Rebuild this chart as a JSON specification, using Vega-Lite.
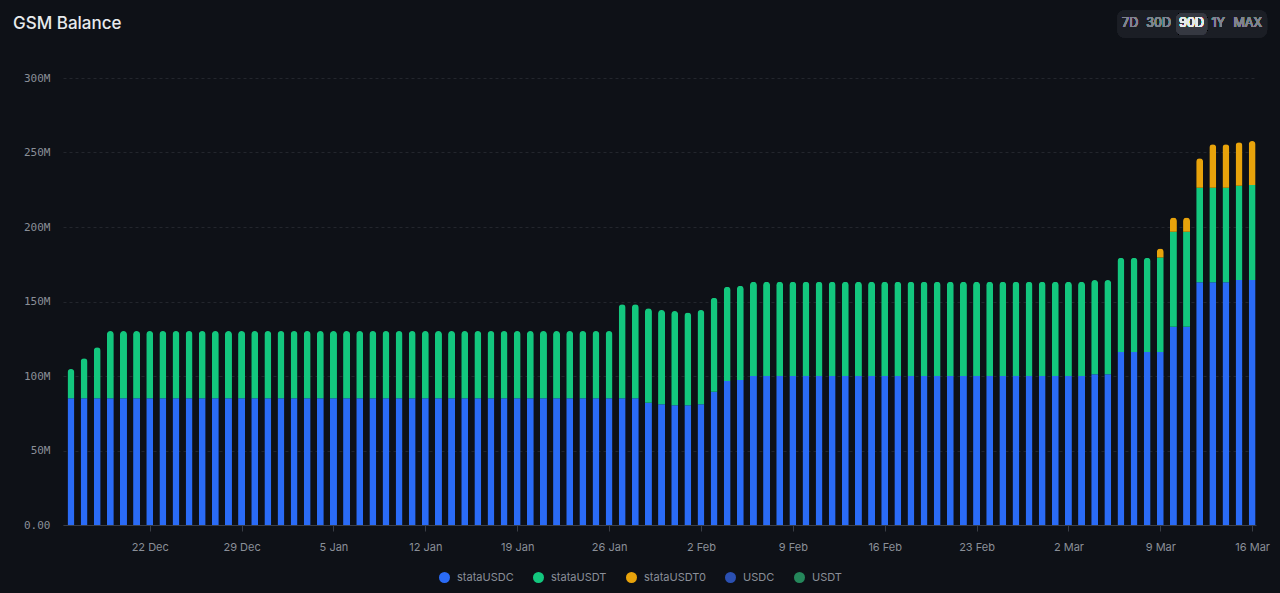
{
  "$schema": "https://vega.github.io/schema/vega-lite/v6.json",
  "autosize": "none",
  "width": 1193,
  "height": 447,
  "padding": {"left": 63, "top": 78, "right": 24, "bottom": 68},
  "background": "#0e1117",
  "title": {"text": "GSM Balance", "anchor": "start", "frame": "group", "dx": -50, "offset": -23, "fontSize": 17, "fontWeight": 500, "color": "#e8eaed", "font": "Inter"},
  "data": {
    "format": {"parse": {"date": "date:'%Y-%m-%d'"}},
    "values": [
      {"date": "2024-12-16", "stataUSDC": 85.0, "stataUSDT": 19.7},
      {"date": "2024-12-17", "stataUSDC": 85.0, "stataUSDT": 26.9},
      {"date": "2024-12-18", "stataUSDC": 85.0, "stataUSDT": 34.3},
      {"date": "2024-12-19", "stataUSDC": 85.0, "stataUSDT": 45.2},
      {"date": "2024-12-20", "stataUSDC": 85.0, "stataUSDT": 45.2},
      {"date": "2024-12-21", "stataUSDC": 85.0, "stataUSDT": 45.2},
      {"date": "2024-12-22", "stataUSDC": 85.0, "stataUSDT": 45.2},
      {"date": "2024-12-23", "stataUSDC": 85.0, "stataUSDT": 45.2},
      {"date": "2024-12-24", "stataUSDC": 85.0, "stataUSDT": 45.2},
      {"date": "2024-12-25", "stataUSDC": 85.0, "stataUSDT": 45.2},
      {"date": "2024-12-26", "stataUSDC": 85.0, "stataUSDT": 45.2},
      {"date": "2024-12-27", "stataUSDC": 85.0, "stataUSDT": 45.2},
      {"date": "2024-12-28", "stataUSDC": 85.0, "stataUSDT": 45.2},
      {"date": "2024-12-29", "stataUSDC": 85.0, "stataUSDT": 45.2},
      {"date": "2024-12-30", "stataUSDC": 85.0, "stataUSDT": 45.2},
      {"date": "2024-12-31", "stataUSDC": 85.0, "stataUSDT": 45.2},
      {"date": "2025-01-01", "stataUSDC": 85.0, "stataUSDT": 45.2},
      {"date": "2025-01-02", "stataUSDC": 85.0, "stataUSDT": 45.2},
      {"date": "2025-01-03", "stataUSDC": 85.0, "stataUSDT": 45.2},
      {"date": "2025-01-04", "stataUSDC": 85.0, "stataUSDT": 45.2},
      {"date": "2025-01-05", "stataUSDC": 85.0, "stataUSDT": 45.2},
      {"date": "2025-01-06", "stataUSDC": 85.0, "stataUSDT": 45.2},
      {"date": "2025-01-07", "stataUSDC": 85.0, "stataUSDT": 45.2},
      {"date": "2025-01-08", "stataUSDC": 85.0, "stataUSDT": 45.2},
      {"date": "2025-01-09", "stataUSDC": 85.0, "stataUSDT": 45.2},
      {"date": "2025-01-10", "stataUSDC": 85.0, "stataUSDT": 45.2},
      {"date": "2025-01-11", "stataUSDC": 85.0, "stataUSDT": 45.2},
      {"date": "2025-01-12", "stataUSDC": 85.0, "stataUSDT": 45.2},
      {"date": "2025-01-13", "stataUSDC": 85.0, "stataUSDT": 45.2},
      {"date": "2025-01-14", "stataUSDC": 85.0, "stataUSDT": 45.2},
      {"date": "2025-01-15", "stataUSDC": 85.0, "stataUSDT": 45.2},
      {"date": "2025-01-16", "stataUSDC": 85.0, "stataUSDT": 45.2},
      {"date": "2025-01-17", "stataUSDC": 85.0, "stataUSDT": 45.2},
      {"date": "2025-01-18", "stataUSDC": 85.0, "stataUSDT": 45.2},
      {"date": "2025-01-19", "stataUSDC": 85.0, "stataUSDT": 45.2},
      {"date": "2025-01-20", "stataUSDC": 85.0, "stataUSDT": 45.2},
      {"date": "2025-01-21", "stataUSDC": 85.0, "stataUSDT": 45.2},
      {"date": "2025-01-22", "stataUSDC": 85.0, "stataUSDT": 45.2},
      {"date": "2025-01-23", "stataUSDC": 85.0, "stataUSDT": 45.2},
      {"date": "2025-01-24", "stataUSDC": 85.0, "stataUSDT": 45.2},
      {"date": "2025-01-25", "stataUSDC": 85.0, "stataUSDT": 45.2},
      {"date": "2025-01-26", "stataUSDC": 85.0, "stataUSDT": 45.2},
      {"date": "2025-01-27", "stataUSDC": 85.0, "stataUSDT": 63.1},
      {"date": "2025-01-28", "stataUSDC": 85.0, "stataUSDT": 63.1},
      {"date": "2025-01-29", "stataUSDC": 82.1, "stataUSDT": 63.3},
      {"date": "2025-01-30", "stataUSDC": 81.0, "stataUSDT": 63.3},
      {"date": "2025-01-31", "stataUSDC": 80.3, "stataUSDT": 63.3},
      {"date": "2025-02-01", "stataUSDC": 80.3, "stataUSDT": 62.4},
      {"date": "2025-02-02", "stataUSDC": 81.0, "stataUSDT": 63.3},
      {"date": "2025-02-03", "stataUSDC": 89.5, "stataUSDT": 63.0},
      {"date": "2025-02-04", "stataUSDC": 96.6, "stataUSDT": 63.3},
      {"date": "2025-02-05", "stataUSDC": 97.3, "stataUSDT": 63.3},
      {"date": "2025-02-06", "stataUSDC": 100.0, "stataUSDT": 63.3},
      {"date": "2025-02-07", "stataUSDC": 100.0, "stataUSDT": 63.3},
      {"date": "2025-02-08", "stataUSDC": 100.0, "stataUSDT": 63.3},
      {"date": "2025-02-09", "stataUSDC": 100.0, "stataUSDT": 63.3},
      {"date": "2025-02-10", "stataUSDC": 100.0, "stataUSDT": 63.3},
      {"date": "2025-02-11", "stataUSDC": 100.0, "stataUSDT": 63.3},
      {"date": "2025-02-12", "stataUSDC": 100.0, "stataUSDT": 63.3},
      {"date": "2025-02-13", "stataUSDC": 100.0, "stataUSDT": 63.3},
      {"date": "2025-02-14", "stataUSDC": 100.0, "stataUSDT": 63.3},
      {"date": "2025-02-15", "stataUSDC": 100.0, "stataUSDT": 63.3},
      {"date": "2025-02-16", "stataUSDC": 100.0, "stataUSDT": 63.3},
      {"date": "2025-02-17", "stataUSDC": 100.0, "stataUSDT": 63.3},
      {"date": "2025-02-18", "stataUSDC": 100.0, "stataUSDT": 63.3},
      {"date": "2025-02-19", "stataUSDC": 100.0, "stataUSDT": 63.3},
      {"date": "2025-02-20", "stataUSDC": 100.0, "stataUSDT": 63.3},
      {"date": "2025-02-21", "stataUSDC": 100.0, "stataUSDT": 63.3},
      {"date": "2025-02-22", "stataUSDC": 100.0, "stataUSDT": 63.3},
      {"date": "2025-02-23", "stataUSDC": 100.0, "stataUSDT": 63.3},
      {"date": "2025-02-24", "stataUSDC": 100.0, "stataUSDT": 63.3},
      {"date": "2025-02-25", "stataUSDC": 100.0, "stataUSDT": 63.3},
      {"date": "2025-02-26", "stataUSDC": 100.0, "stataUSDT": 63.3},
      {"date": "2025-02-27", "stataUSDC": 100.0, "stataUSDT": 63.3},
      {"date": "2025-02-28", "stataUSDC": 100.0, "stataUSDT": 63.3},
      {"date": "2025-03-01", "stataUSDC": 100.0, "stataUSDT": 63.3},
      {"date": "2025-03-02", "stataUSDC": 100.0, "stataUSDT": 63.3},
      {"date": "2025-03-03", "stataUSDC": 100.0, "stataUSDT": 63.3},
      {"date": "2025-03-04", "stataUSDC": 101.2, "stataUSDT": 63.2},
      {"date": "2025-03-05", "stataUSDC": 101.2, "stataUSDT": 63.2},
      {"date": "2025-03-06", "stataUSDC": 116.1, "stataUSDT": 63.3},
      {"date": "2025-03-07", "stataUSDC": 116.1, "stataUSDT": 63.3},
      {"date": "2025-03-08", "stataUSDC": 116.1, "stataUSDT": 63.3},
      {"date": "2025-03-09", "stataUSDC": 116.1, "stataUSDT": 63.4, "stataUSDT0": 6.0},
      {"date": "2025-03-10", "stataUSDC": 133.1, "stataUSDT": 63.7, "stataUSDT0": 9.5},
      {"date": "2025-03-11", "stataUSDC": 133.1, "stataUSDT": 63.7, "stataUSDT0": 9.5},
      {"date": "2025-03-12", "stataUSDC": 162.9, "stataUSDT": 63.5, "stataUSDT0": 19.7},
      {"date": "2025-03-13", "stataUSDC": 162.9, "stataUSDT": 63.5, "stataUSDT0": 29.1},
      {"date": "2025-03-14", "stataUSDC": 162.9, "stataUSDT": 63.5, "stataUSDT0": 29.1},
      {"date": "2025-03-15", "stataUSDC": 164.4, "stataUSDT": 63.3, "stataUSDT0": 29.1},
      {"date": "2025-03-16", "stataUSDC": 164.4, "stataUSDT": 63.8, "stataUSDT0": 29.5}
    ]
  },
  "layer": [
    {
      "transform": [
        {"fold": ["stataUSDC", "stataUSDT", "stataUSDT0"], "as": ["series", "value"]},
        {"filter": "datum.value > 0"}
      ],
      "mark": {"type": "bar", "width": 7, "cornerRadiusEnd": 3.5},
      "encoding": {
        "x": {
          "field": "date",
          "type": "temporal",
          "scale": {"domain": [{"year": 2024, "month": 12, "date": 15, "hours": 9, "minutes": 24}, {"year": 2025, "month": 3, "date": 16, "hours": 7}], "padding": 0},
          "axis": {
            "title": null,
            "format": "%-d %b",
            "tickCount": {"interval": "week", "step": 1},
            "grid": false,
            "domain": true,
            "domainColor": "#3a3e47",
            "ticks": true,
            "tickColor": "#3a3e47",
            "tickSize": 6,
            "labelFont": "Inter",
            "labelFontSize": 11,
            "labelColor": "#8a8f98",
            "labelPadding": 10
          }
        },
        "y": {
          "field": "value",
          "type": "quantitative",
          "stack": "zero",
          "scale": {"domain": [0, 300], "nice": false},
          "axis": {
            "title": null,
            "values": [0, 50, 100, 150, 200, 250, 300],
            "labelExpr": "datum.value == 0 ? '0.00' : datum.value + 'M'",
            "domain": false,
            "ticks": false,
            "grid": true,
            "gridColor": "#23262d",
            "gridDash": [3, 3],
            "labelFont": "DejaVu Sans Mono",
            "labelFontSize": 11,
            "labelColor": "#8a8f98",
            "labelPadding": 13
          }
        },
        "color": {
          "field": "series",
          "type": "nominal",
          "scale": {
            "domain": ["stataUSDC", "stataUSDT", "stataUSDT0", "USDC", "USDT"],
            "range": ["#2a6bf6", "#13c77e", "#e8a30b", "#2b50b2", "#25875b"]
          },
          "legend": {
            "title": null,
            "orient": "none",
            "direction": "horizontal",
            "legendX": 376,
            "legendY": 494,
            "symbolType": "circle",
            "symbolSize": 121,
            "symbolStrokeWidth": 0,
            "labelFont": "Inter",
            "labelFontSize": 11,
            "labelColor": "#8a8f98",
            "labelOffset": 7,
            "columnPadding": 19
          }
        },
        "order": {"field": "series", "sort": "ascending"}
      }
    },
    {
      "mark": {"type": "rect", "color": "#1b1e25", "cornerRadius": 8},
      "encoding": {
        "x": {"datum": {"year": 2025, "month": 3, "date": 5, "hours": 17}, "type": "temporal"},
        "x2": {"datum": {"year": 2025, "month": 3, "date": 17, "hours": 3, "minutes": 25}},
        "y": {"datum": 345.6, "type": "quantitative"},
        "y2": {"datum": 326.8}
      }
    },
    {
      "mark": {"type": "rect", "color": "#353841", "cornerRadius": 6},
      "encoding": {
        "x": {"datum": {"year": 2025, "month": 3, "date": 10, "hours": 5}, "type": "temporal"},
        "x2": {"datum": {"year": 2025, "month": 3, "date": 12, "hours": 13, "minutes": 40}},
        "y": {"datum": 343.6, "type": "quantitative"},
        "y2": {"datum": 328.9}
      }
    },
    {
      "mark": {"type": "text", "text": "7D", "font": "Inter", "fontSize": 12.5, "color": "#80858f", "baseline": "middle", "align": "center"},
      "encoding": {
        "x": {"datum": {"year": 2025, "month": 3, "date": 6, "hours": 16, "minutes": 50}, "type": "temporal"},
        "y": {"datum": 336.9, "type": "quantitative"}
      }
    },
    {
      "mark": {"type": "text", "text": "30D", "font": "Inter", "fontSize": 12.5, "color": "#80858f", "baseline": "middle", "align": "center"},
      "encoding": {
        "x": {"datum": {"year": 2025, "month": 3, "date": 8, "hours": 21}, "type": "temporal"},
        "y": {"datum": 336.9, "type": "quantitative"}
      }
    },
    {
      "mark": {"type": "text", "text": "90D", "font": "Inter", "fontSize": 12.5, "color": "#e8eaed", "baseline": "middle", "align": "center"},
      "encoding": {
        "x": {"datum": {"year": 2025, "month": 3, "date": 11, "hours": 9, "minutes": 20}, "type": "temporal"},
        "y": {"datum": 336.9, "type": "quantitative"}
      }
    },
    {
      "mark": {"type": "text", "text": "1Y", "font": "Inter", "fontSize": 12.5, "color": "#80858f", "baseline": "middle", "align": "center"},
      "encoding": {
        "x": {"datum": {"year": 2025, "month": 3, "date": 13, "hours": 9, "minutes": 50}, "type": "temporal"},
        "y": {"datum": 336.9, "type": "quantitative"}
      }
    },
    {
      "mark": {"type": "text", "text": "MAX", "font": "Inter", "fontSize": 12.5, "color": "#80858f", "baseline": "middle", "align": "center"},
      "encoding": {
        "x": {"datum": {"year": 2025, "month": 3, "date": 15, "hours": 15, "minutes": 50}, "type": "temporal"},
        "y": {"datum": 336.9, "type": "quantitative"}
      }
    }
  ],
  "config": {
    "view": {"stroke": null}
  }
}
